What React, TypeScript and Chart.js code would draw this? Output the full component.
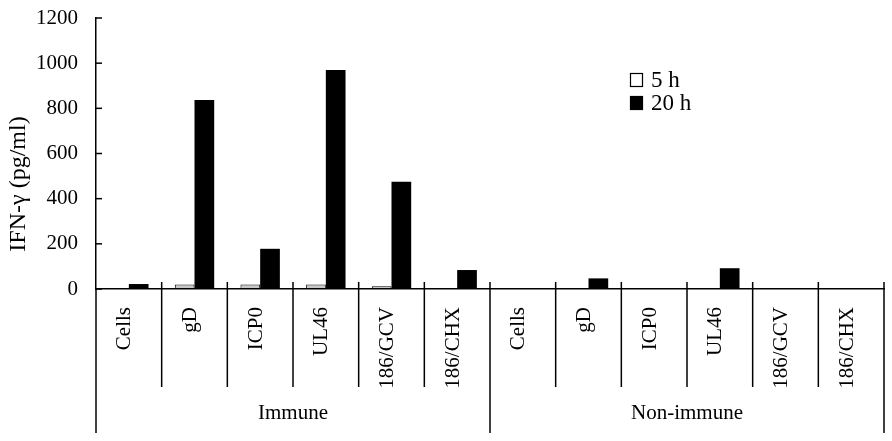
import React, { useRef, useEffect } from "react";
import Chart from "chart.js/auto";

const categories = [
  "Cells", "gD", "ICP0", "UL46", "186/GCV", "186/CHX",
  "Cells", "gD", "ICP0", "UL46", "186/GCV", "186/CHX",
];
const groups = ["Immune", "Non-immune"];
const groupSize = 6;

const values5h = [0, 20, 20, 20, 12, 0, 0, 0, 0, 0, 0, 0];
const values20h = [22, 837, 178, 970, 475, 84, 0, 47, 0, 92, 0, 0];

const seriesLabels = ["5 h", "20 h"];
const yTitle = "IFN-\u03b3 (pg/ml)";
const yMin = 0;
const yMax = 1200;
const yStep = 200;

const FONT = "'Liberation Serif', 'Times New Roman', serif";

// axis decorations, group brackets, rotated labels and the legend
const decorPlugin = {
  id: "decor",
  afterDraw(chart: any) {
    const { ctx, chartArea, scales } = chart;
    const x = scales.x;
    const y = scales.y;
    const n = categories.length;
    const step = (chartArea.right - chartArea.left) / n;
    const base = chartArea.bottom;

    ctx.save();
    ctx.strokeStyle = "#000";
    ctx.fillStyle = "#000";
    ctx.lineWidth = 1.5;

    // y ticks pointing inward
    y.ticks.forEach((t: any) => {
      const yy = y.getPixelForValue(t.value);
      ctx.beginPath();
      ctx.moveTo(chartArea.left, yy);
      ctx.lineTo(chartArea.left + 6, yy);
      ctx.stroke();
    });

    // category separators
    for (let i = 0; i <= n; i++) {
      const xx = chartArea.left + i * step;
      const isGroup = i % groupSize === 0;
      ctx.beginPath();
      ctx.moveTo(xx, i === 0 ? base : base - 7);
      ctx.lineTo(xx, isGroup ? 433 : 387);
      ctx.stroke();
    }

    // rotated category labels
    ctx.font = `21px ${FONT}`;
    categories.forEach((c, i) => {
      const cx = x.getPixelForValue(i);
      ctx.save();
      ctx.translate(cx + 1.5, base + 18);
      ctx.rotate(-Math.PI / 2);
      ctx.textAlign = "right";
      ctx.textBaseline = "alphabetic";
      ctx.fillText(c, 0, 0);
      ctx.restore();
    });

    // group labels
    ctx.textAlign = "center";
    ctx.textBaseline = "middle";
    groups.forEach((g, gi) => {
      const gx = chartArea.left + (gi * groupSize + groupSize / 2) * step;
      ctx.fillText(g, gx, 413);
    });

    // y title
    ctx.save();
    ctx.translate(19, 184);
    ctx.rotate(-Math.PI / 2);
    ctx.font = `24px ${FONT}`;
    ctx.textAlign = "center";
    ctx.textBaseline = "middle";
    ctx.fillText(yTitle, 0, 0);
    ctx.restore();

    // legend
    const boxes = [
      { top: 73, fill: "#fff" },
      { top: 96, fill: "#000" },
    ];
    ctx.font = `23px ${FONT}`;
    ctx.textAlign = "left";
    ctx.textBaseline = "middle";
    seriesLabels.forEach((s, i) => {
      const b = boxes[i];
      ctx.fillStyle = b.fill;
      ctx.fillRect(630.5, b.top + 0.5, 12, 13);
      ctx.lineWidth = 1.2;
      ctx.strokeRect(630.5, b.top + 0.5, 12, 13);
      ctx.fillStyle = "#000";
      ctx.fillText(s, 651, b.top + 7.5);
    });

    ctx.restore();
  },
};

const App = () => {
  const chartRef = useRef<HTMLCanvasElement>(null);
  const chartInstance = useRef<Chart | null>(null);

  useEffect(() => {
    document.body.style.margin = "0";
    if (chartRef.current) {
      chartInstance.current = new Chart(chartRef.current, {
        type: "bar",
        data: {
          labels: categories,
          datasets: [
            {
              label: seriesLabels[0],
              data: values5h,
              backgroundColor: "#c8c8c8",
              borderColor: "#000",
              borderWidth: 1,
              borderSkipped: false,
              categoryPercentage: 0.6,
              barPercentage: 1,
            },
            {
              label: seriesLabels[1],
              data: values20h,
              backgroundColor: "#000",
              borderWidth: 0,
              categoryPercentage: 0.6,
              barPercentage: 1,
            },
          ],
        },
        options: {
          animation: false,
          responsive: true,
          maintainAspectRatio: false,
          layout: { padding: { left: 0, top: 18, right: 8, bottom: 0 } },
          plugins: {
            legend: { display: false },
            tooltip: { enabled: false },
          },
          scales: {
            x: {
              ticks: { display: false },
              grid: { display: false, drawTicks: false },
              border: { color: "#000", width: 1.5 },
              afterFit: (s: any) => {
                s.height = 152;
                s.paddingLeft = 0;
                s.paddingRight = 0;
              },
            },
            y: {
              min: yMin,
              max: yMax,
              ticks: {
                stepSize: yStep,
                color: "#000",
                padding: 18,
                font: { family: FONT, size: 21 },
                callback: (v: any) => String(v),
              },
              grid: { display: false, drawTicks: false },
              border: { color: "#000", width: 1.5 },
              afterFit: (s: any) => {
                s.width = 96;
                s.paddingTop = 0;
                s.paddingBottom = 0;
              },
            },
          },
        },
        plugins: [decorPlugin],
      });
    }
    return () => {
      chartInstance.current?.destroy();
    };
  }, []);

  return (
    <div style={{ position: "relative", width: 892, height: 441, background: "#fff" }}>
      <canvas ref={chartRef} />
    </div>
  );
};

export default App;
